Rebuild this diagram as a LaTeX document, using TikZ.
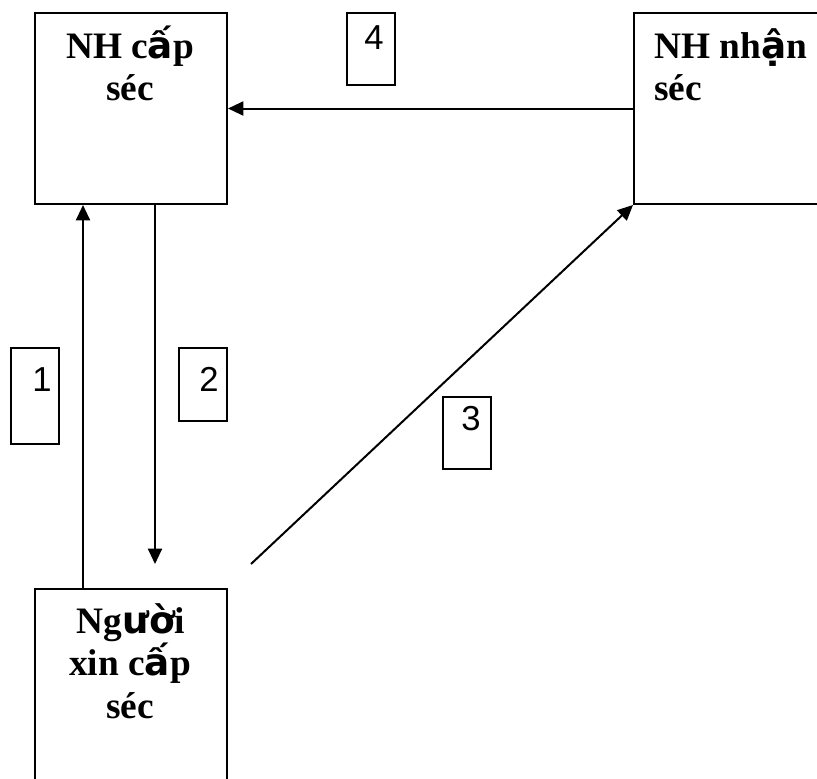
\documentclass[tikz,border=0pt]{standalone}
\usepackage{fontspec}
\setmainfont{Liberation Serif}
\newfontfamily\vnfont{DejaVu Sans}
\newfontfamily\numfont{Liberation Sans}
\usetikzlibrary{arrows.meta}
\newcommand{\vnc}[1]{{\vnfont\bfseries #1}}
\tikzset{
  bigbox/.style={draw, line width=1.5pt, inner sep=0pt},
  tagbox/.style={draw, line width=1.2pt, inner sep=0pt, minimum width=36pt},
  lbl/.style={font=\fontsize{28}{30}\selectfont\bfseries, inner sep=0pt, anchor=base},
  lbll/.style={lbl, anchor=base west},
  num/.style={font=\numfont\fontsize{26}{28}\selectfont, inner sep=0pt, anchor=base east},
  conn/.style={line width=1.5pt, -{Triangle[length=11.5pt,width=10.5pt]}}
}
\begin{document}
\begin{tikzpicture}[x=0.75pt,y=-0.75pt]
\useasboundingbox (0,0) rectangle (817,778);
% main boxes
\node[bigbox, minimum width=144pt, minimum height=143.25pt] (A) at (131,108.5) {};
\node[bigbox, minimum width=162pt, minimum height=143.25pt] (B) at (742,108.5) {};
\node[bigbox, minimum width=144pt, minimum height=165.75pt] (C) at (131,699.5) {};
% box texts
\node[lbl] (a1) at (130,58) {NH c\vnc{ấ}p};
\node[lbl] (a2) at (130,100) {séc};
\node[lbll] (b1) at (654,58) {NH nh\vnc{ậ}n};
\node[lbll] (b2) at (654,100) {séc};
\node[lbl] (c1) at (131,633) {Ng\vnc{ườ}i};
\node[lbl] (c2) at (130,675) {xin c\vnc{ấ}p};
\node[lbl] (c3) at (130,718) {séc};
% tag boxes
\node[tagbox, minimum height=54pt] (L4) at (371,49) {};
\node[tagbox, minimum height=72pt] (L1) at (35,396) {};
\node[tagbox, minimum height=54.75pt] (L2) at (203,384.5) {};
\node[tagbox, minimum height=54pt] (L3) at (467,433) {};
\node[num] (n4) at (384,49) {4};
\node[num] (n1) at (52,391) {1};
\node[num] (n2) at (219,391) {2};
\node[num] (n3) at (481,430) {3};
% connector helpers
\coordinate (x1) at (83,0);
\coordinate (x2) at (155,0);
\coordinate (t2) at (155,564);
\coordinate (s3) at (251,564);
% connectors
\draw[conn] (B.west) -- (A.east);
\draw[conn] (C.north -| x1) -- (A.south -| x1);
\draw[conn] (A.south -| x2) -- (t2);
\draw[conn] (s3) -- (B.south west);
\end{tikzpicture}
\end{document}
